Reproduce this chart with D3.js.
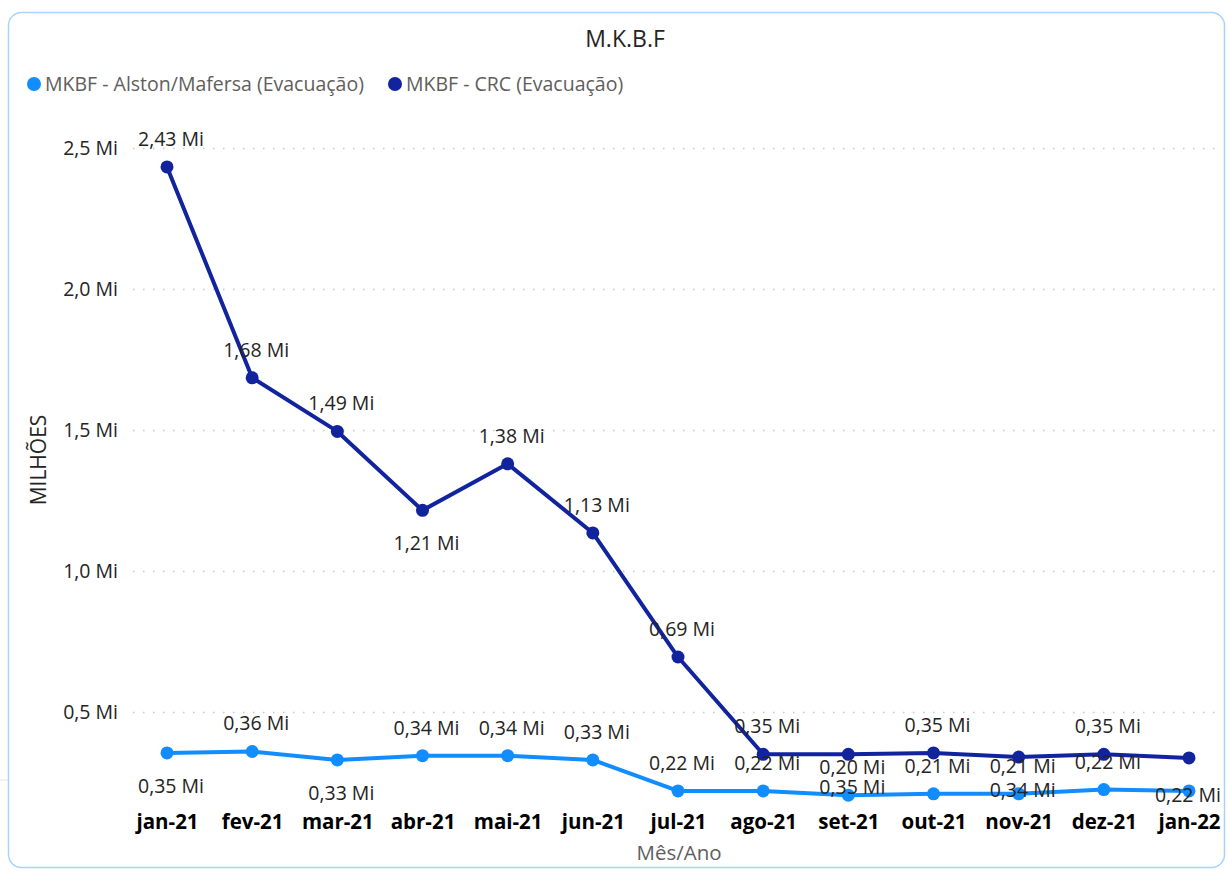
<!DOCTYPE html>
<html>
<head>
<meta charset="utf-8">
<script src="https://cdn.jsdelivr.net/npm/d3@7"></script>
<style>
  body { margin: 0; background: #fff; }
  text { font-family: "Open Sans", "Noto Sans", sans-serif; }
</style>
</head>
<body>
<div id="chart"></div>
<script>
// Data
var months = ["jan-21", "fev-21", "mar-21", "abr-21", "mai-21", "jun-21", "jul-21",
              "ago-21", "set-21", "out-21", "nov-21", "dez-21", "jan-22"];
var alston = [0.355, 0.36, 0.33, 0.345, 0.345, 0.33, 0.22, 0.22, 0.205, 0.21, 0.21, 0.225, 0.22];
var alstonLabels = ["0,35", "0,36", "0,33", "0,34", "0,34", "0,33", "0,22", "0,22", "0,20", "0,21", "0,21", "0,22", "0,22"];
var crc = [2.433, 1.685, 1.495, 1.215, 1.38, 1.135, 0.695, 0.35, 0.35, 0.355, 0.34, 0.35, 0.337];
var crcLabels = ["2,43", "1,68", "1,49", "1,21", "1,38", "1,13", "0,69", "0,35", "0,35", "0,35", "0,34", "0,35", null];
var yTicks = [0.5, 1.0, 1.5, 2.0, 2.5];
var yTickLabels = ["0,5 Mi", "1,0 Mi", "1,5 Mi", "2,0 Mi", "2,5 Mi"];
var seriesNames = ["MKBF - Alston/Mafersa (Evacuação)", "MKBF - CRC (Evacuação)"];

// label side per point (1 = above, -1 = below, 0 = just under the marker)
var alstonSide = [-1, 1, -1, 1, 1, 1, 1, 1, 1, 1, 1, 1, 0];
var crcSide = [1, 1, 1, -1, 1, 1, 1, 1, -1, 1, -1, 1, 1];

var colorLight = "#118DFF";
var colorDark = "#12239E";

var svgWidth = 1227, svgHeight = 870;
var svg = d3.select("#chart").append("svg")
    .attr("width", svgWidth)
    .attr("height", svgHeight);

// card border
svg.append("line")
    .attr("x1", 0).attr("x2", 8).attr("y1", 780).attr("y2", 780)
    .attr("stroke", "#e3e3e3").attr("stroke-width", 1);
svg.append("rect")
    .attr("x", 8.5).attr("y", 12.5)
    .attr("width", 1216).attr("height", 855)
    .attr("rx", 13)
    .attr("fill", "#fff")
    .attr("stroke", "#a9d3fb")
    .attr("stroke-width", 1.5);

// scales
var x = d3.scalePoint()
    .domain(months)
    .range([167, 1189]);

var y = d3.scaleLinear()
    .domain([0.5, 2.5])
    .range([712, 148]);

// title
svg.append("text")
    .attr("x", 625).attr("y", 47)
    .attr("text-anchor", "middle")
    .attr("font-size", "23px")
    .attr("fill", "#252423")
    .text("M.K.B.F");

// legend
var legend = svg.append("g");
var legendX = [34, 395];
seriesNames.forEach(function (name, i) {
    legend.append("circle")
        .attr("cx", legendX[i]).attr("cy", 84).attr("r", 7)
        .attr("fill", i === 0 ? colorLight : colorDark);
    legend.append("text")
        .attr("x", legendX[i] + 11).attr("y", 91)
        .attr("font-size", "19.5px")
        .attr("fill", "#605E5C")
        .text(name);
});

// gridlines + y tick labels
var yAxis = d3.axisLeft(y)
    .tickValues(yTicks)
    .tickSize(-(1220 - 133))
    .tickPadding(15)
    .tickFormat(function (d, i) { return yTickLabels[i]; });

var yG = svg.append("g")
    .attr("transform", "translate(133,0)")
    .call(yAxis);
yG.select(".domain").remove();
yG.selectAll(".tick line")
    .attr("stroke", "#c8c8c8")
    .attr("stroke-width", 1.5)
    .attr("stroke-dasharray", "1.5,8.5");
yG.selectAll(".tick text")
    .attr("font-size", "19.5px")
    .attr("fill", "#252423");

// y axis title
svg.append("text")
    .attr("transform", "translate(46,460) rotate(-90)")
    .attr("text-anchor", "middle")
    .attr("font-size", "21px")
    .attr("fill", "#252423")
    .text("MILHÕES");

// x axis labels
var xAxis = d3.axisBottom(x).tickSize(0).tickPadding(0);
var xG = svg.append("g")
    .attr("transform", "translate(0,814)")
    .call(xAxis);
xG.select(".domain").remove();
xG.selectAll(".tick text")
    .attr("font-size", "20.5px")
    .attr("font-weight", "bold")
    .attr("fill", "#000");

svg.append("text")
    .attr("x", 679).attr("y", 860)
    .attr("text-anchor", "middle")
    .attr("font-size", "20.5px")
    .attr("fill", "#605E5C")
    .text("Mês/Ano");

// lines
var line = d3.line()
    .x(function (d, i) { return x(months[i]); })
    .y(function (d) { return y(d); });

function drawSeries(values, color) {
    svg.append("path")
        .datum(values)
        .attr("d", line)
        .attr("fill", "none")
        .attr("stroke", color)
        .attr("stroke-width", 4)
        .attr("stroke-linejoin", "round");
    svg.append("g").selectAll("circle")
        .data(values)
        .enter()
        .append("circle")
        .attr("cx", function (d, i) { return x(months[i]); })
        .attr("cy", function (d) { return y(d); })
        .attr("r", 6.5)
        .attr("fill", color);
}

drawSeries(alston, colorLight);
drawSeries(crc, colorDark);

// data labels
var dyBySide = { "1": -21, "-1": 40, "0": 11 };

function drawLabels(values, labels, side) {
    var rows = values.map(function (d, i) {
        return { v: d, label: labels[i], month: months[i], side: side[i] };
    }).filter(function (r) { return r.label !== null; });

    svg.append("g").selectAll("text")
        .data(rows)
        .enter()
        .append("text")
        .attr("x", function (r) { return x(r.month) + 4; })
        .attr("y", function (r) { return y(r.v) + dyBySide[r.side]; })
        .attr("text-anchor", "middle")
        .attr("font-size", "19.5px")
        .attr("fill", "#252423")
        .text(function (r) { return r.label + " Mi"; })
        .each(function () {
            // keep labels inside the card
            var w = this.getComputedTextLength();
            var cx = +d3.select(this).attr("x");
            if (cx + w / 2 > 1221) d3.select(this).attr("x", 1221 - w / 2);
        });
}

drawLabels(alston, alstonLabels, alstonSide);
drawLabels(crc, crcLabels, crcSide);
</script>
</body>
</html>
